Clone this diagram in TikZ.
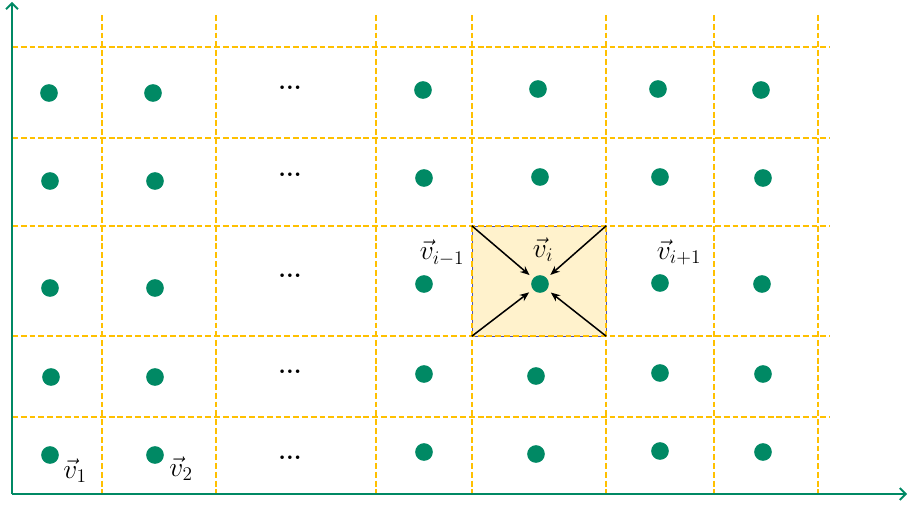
\RequirePackage{fix-cm}
\documentclass[tikz,border=0pt]{standalone}
\usepackage{amsmath}
\usetikzlibrary{arrows.meta, positioning}
\definecolor{dotgreen}{RGB}{0,137,100}
\definecolor{gridorange}{RGB}{255,192,0}
\definecolor{cellfill}{RGB}{255,242,204}

\begin{document}
\begin{tikzpicture}[
    x=0.03cm, y=-0.03cm,
    pt/.style={circle, fill=dotgreen, inner sep=0pt, minimum size=0.53cm},
    gridline/.style={draw=gridorange, line width=1.5pt,
                     dash pattern=on 5pt off 2.5pt},
    axis/.style={draw=dotgreen, line width=1.6pt,
                 -{Straight Barb[length=5pt, width=10pt]}},
    arr/.style={-{Stealth[length=8pt, width=6.5pt]}, line width=1.3pt,
                shorten >=4pt},
    lbl/.style={font=\fontsize{23.5}{28}\selectfont, inner sep=0pt},
    gap/.style={font=\fontsize{21}{25}\selectfont\bfseries, inner sep=0pt},
]
\useasboundingbox (0,0) rectangle (909,506);

% highlighted cell
\node[draw=blue!35!gray, thin, fill=cellfill, inner sep=0pt,
      minimum width=4.02cm, minimum height=3.3cm] (cell) at (539,281) {};

% grid
\draw[gridline] (12,47) -- (830,47);
\draw[gridline] (12,138) -- (830,138);
\draw[gridline] (12,226) -- (830,226);
\draw[gridline] (12,336) -- (830,336);
\draw[gridline] (12,417) -- (830,417);
\draw[gridline] (102,15) -- (102,494);
\draw[gridline] (216,15) -- (216,494);
\draw[gridline] (376,15) -- (376,494);
\draw[gridline] (472,15) -- (472,494);
\draw[gridline] (606,15) -- (606,494);
\draw[gridline] (714,15) -- (714,494);
\draw[gridline] (818,15) -- (818,494);

% axes
\coordinate (origin) at (12,494);
\coordinate (ytip) at (12,2);
\coordinate (xtip) at (907,494);
\draw[axis] (origin) -- (ytip);
\draw[axis] (origin) -- (xtip);

% points
\node[pt] (a1) at (49,93) {};   \node[pt] (a2) at (153,93) {};
\node[pt] (a3) at (423,90) {};  \node[pt] (a4) at (538,89) {};
\node[pt] (a5) at (658,89) {};  \node[pt] (a6) at (761,90) {};
\node[pt] (b1) at (50,181) {};  \node[pt] (b2) at (155,181) {};
\node[pt] (b3) at (424,178) {}; \node[pt] (b4) at (540,177) {};
\node[pt] (b5) at (660,177) {}; \node[pt] (b6) at (763,178) {};
\node[pt] (c1) at (50,288) {};  \node[pt] (c2) at (155,288) {};
\node[pt] (c3) at (424,284) {}; \node[pt] (vi) at (540,284) {};
\node[pt] (c5) at (660,283) {}; \node[pt] (c6) at (762,284) {};
\node[pt] (d1) at (51,377) {};  \node[pt] (d2) at (155,377) {};
\node[pt] (d3) at (424,374) {}; \node[pt] (d4) at (536,376) {};
\node[pt] (d5) at (660,373) {}; \node[pt] (d6) at (763,374) {};
\node[pt] (e1) at (50,455) {};  \node[pt] (e2) at (155,455) {};
\node[pt] (e3) at (424,452) {}; \node[pt] (e4) at (536,454) {};
\node[pt] (e5) at (660,451) {}; \node[pt] (e6) at (763,452) {};

% skipped columns
\node[gap] (ga) at (290,88) {...};
\node[gap] (gb) at (290,175) {...};
\node[gap] (gc) at (290,276) {...};
\node[gap] (gd) at (290,372) {...};
\node[gap] (ge) at (290,458) {...};

% flow into the cell centre
\draw[arr] (cell.north west) -- (vi);
\draw[arr] (cell.north east) -- (vi);
\draw[arr] (cell.south west) -- (vi);
\draw[arr] (cell.south east) -- (vi);

% labels
\node[lbl] (l1) at (75,471) {$\vec{v}_1$};
\node[lbl] (l2) at (181,469) {$\vec{v}_2$};
\node[lbl] (lm) at (442,253) {$\vec{v}_{i-1}$};
\node[lbl] (li) at (543,250) {$\vec{v}_i$};
\node[lbl] (lp) at (679,252) {$\vec{v}_{i+1}$};

\end{tikzpicture}
\end{document}
